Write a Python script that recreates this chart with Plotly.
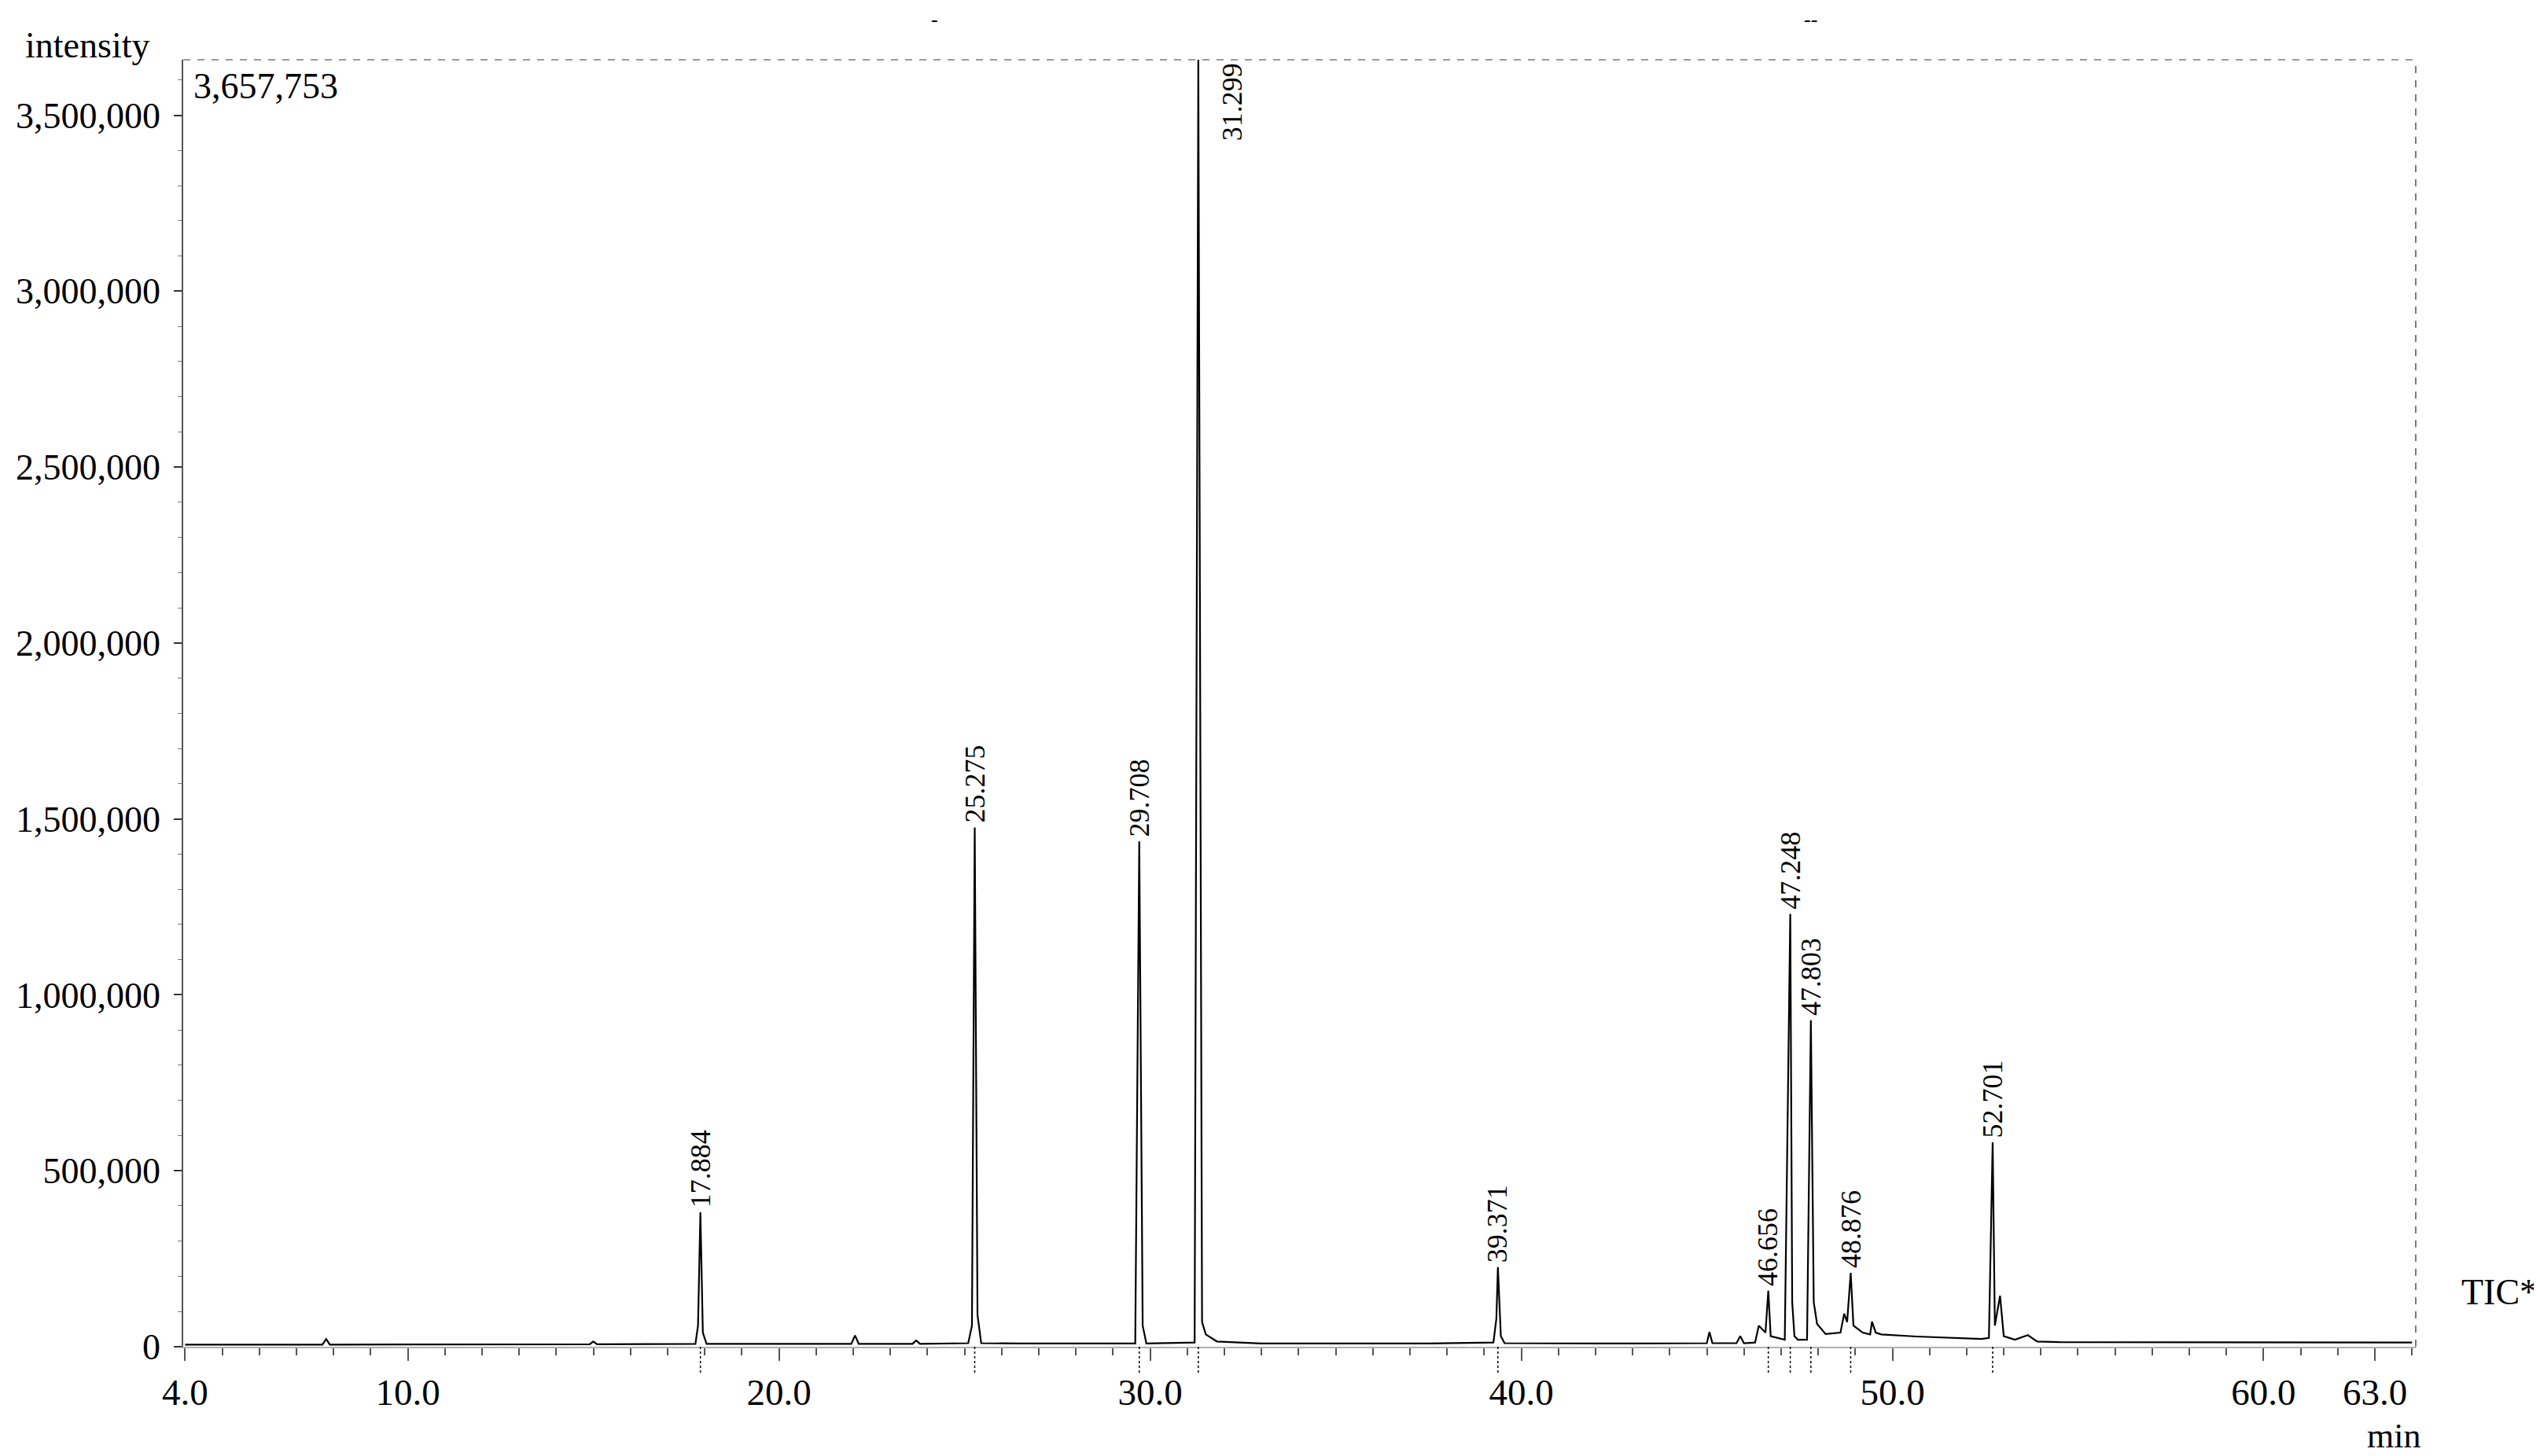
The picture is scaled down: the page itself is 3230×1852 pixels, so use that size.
import plotly.graph_objects as go

# chromatogram trace (retention time in min, intensity)
rt = [4.0, 7.7, 7.8, 7.9, 14.9, 15.0, 15.1, 17.75, 17.82, 17.884, 17.95, 18.05, 21.95, 22.05, 22.15,
      23.6, 23.7, 23.8, 25.1, 25.2, 25.275, 25.35, 25.45, 26.5, 29.6, 29.708, 29.8, 29.9, 31.2,
      31.299, 31.4, 31.5, 31.8, 33.0, 37.5, 39.25, 39.33, 39.371, 39.45, 39.55, 43.0, 45.0, 45.07,
      45.15, 45.8, 45.9, 46.0, 46.3, 46.4, 46.58, 46.656, 46.72, 47.1, 47.248, 47.3, 47.36, 47.45,
      47.7, 47.803, 47.88, 47.97, 48.2, 48.6, 48.7, 48.78, 48.876, 48.95, 49.2, 49.4, 49.45, 49.55,
      49.7, 50.65, 51.5, 52.4, 52.6, 52.701, 52.76, 52.9, 53.0, 53.3, 53.65, 53.9, 54.5, 60.0, 64.0]
intensity = [6000, 6000, 22000, 6000, 7000, 15000, 7000, 8000, 60000, 382000, 40000, 8000, 8000,
             32000, 8000, 8000, 18000, 8000, 10000, 60000, 1476000, 90000, 10000, 9000, 9000,
             1436000, 60000, 9000, 12000, 3657753, 70000, 35000, 15000, 9000, 9000, 12000, 80000,
             226000, 30000, 10000, 9000, 10000, 42000, 10000, 10000, 30000, 10000, 12000, 60000,
             40000, 159000, 30000, 20000, 1230000, 127000, 30000, 20000, 20000, 928000, 127000,
             65000, 36000, 40000, 94000, 70000, 210000, 60000, 40000, 35000, 71000, 40000, 35000,
             29000, 25000, 22000, 25000, 581000, 60000, 145000, 30000, 20000, 33000, 15000, 13000,
             12000, 12000]

# labelled peaks
peak_rt = [17.884, 25.275, 29.708, 31.299, 39.371, 46.656, 47.248, 47.803, 48.876, 52.701]
peak_height = [382000, 1476000, 1436000, 3657753, 226000, 159000, 1230000, 928000, 210000, 581000]
peak_label = ["17.884", "25.275", "29.708", "31.299", "39.371", "46.656", "47.248", "47.803",
              "48.876", "52.701"]

x_ticks = [4, 10, 20, 30, 40, 50, 60, 63]
x_tick_text = ["4.0", "10.0", "20.0", "30.0", "40.0", "50.0", "60.0", "63.0"]
y_ticks = [0, 500000, 1000000, 1500000, 2000000, 2500000, 3000000, 3500000]
y_max = 3657753

W, H = 3230, 1852
L, R, T, B = 221, 3064, 68, 1705
FONT = "Liberation Serif"


def px(x):
    return (x - L) / (R - L)


def py(y):
    return (B - y) / (B - T)


fig = go.Figure()
fig.add_trace(go.Scatter(x=rt, y=intensity, mode="lines",
                         line=dict(color="black", width=2.2), hoverinfo="skip"))

annotations = []
for t, h, lab in zip(peak_rt, peak_height, peak_label):
    if h >= y_max:
        annotations.append(dict(x=t, y=1, xref="x", yref="paper", text=lab, textangle=-90,
                                showarrow=False, xanchor="center", yanchor="top", xshift=43,
                                yshift=-2, font=dict(family=FONT, size=36, color="black")))
    else:
        annotations.append(dict(x=t, y=h, xref="x", yref="y", text=lab, textangle=-90,
                                showarrow=False, xanchor="center", yanchor="bottom", yshift=4,
                                font=dict(family=FONT, size=36, color="black")))

annotations += [
    dict(x=px(18), y=py(22), xref="paper", yref="paper", text="intensity", showarrow=False,
         xanchor="left", yanchor="top", font=dict(family=FONT, size=46, color="black")),
    dict(x=px(232), y=py(74), xref="paper", yref="paper", text="3,657,753", showarrow=False,
         xanchor="left", yanchor="top", font=dict(family=FONT, size=46, color="black")),
    dict(x=px(3072), y=py(1818), xref="paper", yref="paper", text="min", showarrow=False,
         xanchor="right", yanchor="middle", font=dict(family=FONT, size=44, color="black")),
    dict(x=px(3120), y=py(1635), xref="paper", yref="paper", text="TIC*", showarrow=False,
         xanchor="left", yanchor="middle", font=dict(family=FONT, size=46, color="black")),
    dict(x=px(1178), y=py(0), xref="paper", yref="paper", text="-", showarrow=False,
         xanchor="center", yanchor="top", font=dict(family=FONT, size=26, color="black")),
    dict(x=px(2293), y=py(0), xref="paper", yref="paper", text="--", showarrow=False,
         xanchor="center", yanchor="top", font=dict(family=FONT, size=26, color="black")),
]

shapes = [
    # dashed frame top and right
    dict(type="line", xref="paper", yref="paper", x0=0, x1=1, y0=1, y1=1,
         line=dict(color="#9a9a9a", width=2, dash="dash")),
    dict(type="line", xref="paper", yref="paper", x0=1, x1=1, y0=0, y1=1,
         line=dict(color="#7a7a7a", width=2, dash="dash")),
]
# peak markers below the baseline
for t in peak_rt:
    shapes.append(dict(type="line", xref="x", yref="paper", x0=t, x1=t, y0=0, y1=-0.022,
                       line=dict(color="black", width=1.5, dash="dot")))

fig.update_layout(
    width=W, height=H,
    margin=dict(l=L, r=W - R, t=T, b=H - B),
    paper_bgcolor="white", plot_bgcolor="white",
    showlegend=False,
    annotations=annotations,
    shapes=shapes,
    font=dict(family=FONT, color="black"),
)
fig.update_xaxes(
    range=[3.95, 64.1], tickvals=x_ticks, ticktext=x_tick_text,
    showgrid=False, zeroline=False, showline=True, linecolor="#b0b0b0", linewidth=1.5,
    ticks="outside", ticklen=16, tickwidth=1.5, tickcolor="#555",
    minor=dict(tickmode="linear", tick0=0, dtick=1, ticks="outside", ticklen=9,
               tickcolor="#555", tickwidth=1.5),
    tickfont=dict(family=FONT, size=47, color="black"),
)
fig.update_yaxes(
    range=[0, y_max], tickvals=y_ticks,
    tickformat=",", showgrid=False, zeroline=False, showline=True, linecolor="#555",
    linewidth=1.5, ticks="outside", ticklen=10, tickwidth=1.5, tickcolor="#333",
    ticklabelstandoff=8,
    minor=dict(tickmode="linear", tick0=0, dtick=100000, ticks="outside", ticklen=5,
               tickcolor="#777", tickwidth=1.2),
    tickfont=dict(family=FONT, size=46, color="black"),
)

fig.write_html("out.html")
